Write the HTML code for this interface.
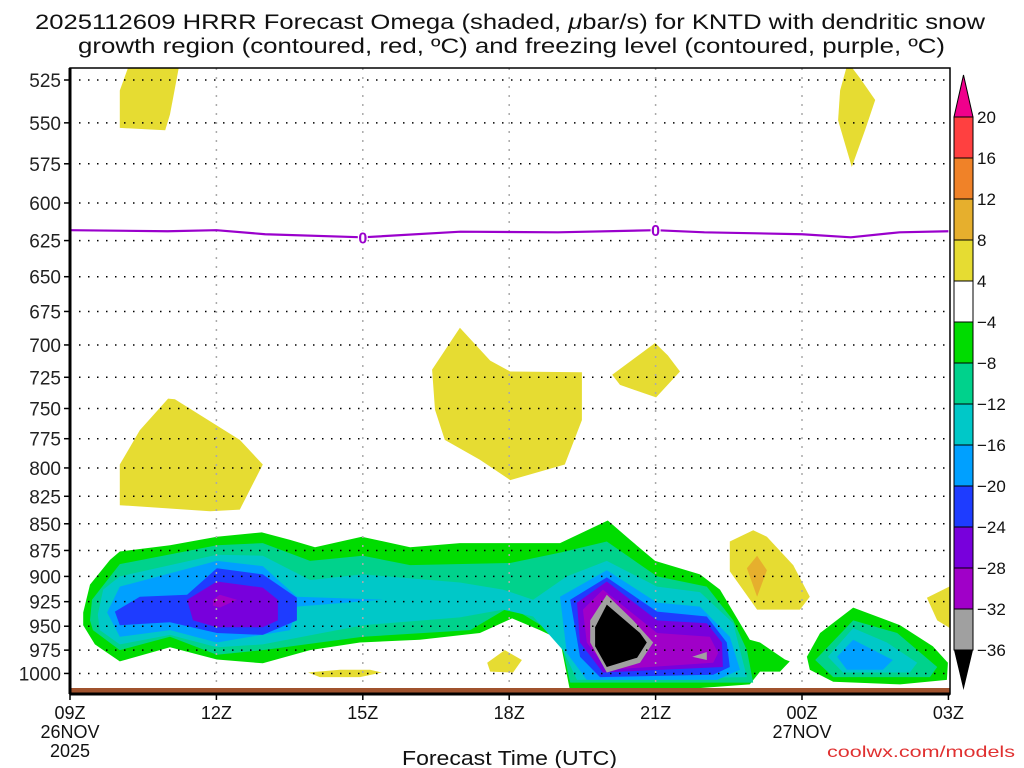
<!DOCTYPE html>
<html><head><meta charset="utf-8"><style>
body{margin:0;background:#fff;}
svg{display:block;font-family:"Liberation Sans",sans-serif;}
</style></head><body>
<svg id="chart" width="1024" height="768" viewBox="0 0 1024 768">
<text x="35" y="29" font-size="21" textLength="950" lengthAdjust="spacingAndGlyphs" fill="#111">2025112609 HRRR Forecast Omega (shaded, <tspan font-style="italic">μ</tspan>bar/s) for KNTD with dendritic snow</text>
<text x="78" y="53" font-size="21" textLength="867" lengthAdjust="spacingAndGlyphs" fill="#111">growth region (contoured, red, ºC) and freezing level (contoured, purple, ºC)</text>
<defs><clipPath id="pc"><rect x="70" y="68" width="880" height="620"/></clipPath></defs>
<g id="fills" clip-path="url(#pc)"></g>
<g id="grid"></g>
<g id="frz" clip-path="url(#pc)"></g>
<rect x="70" y="688" width="880" height="6" fill="#a0522d"/>
<g id="axes"></g>
<g id="cbar"></g>
<text x="402" y="765" font-size="20" textLength="215" lengthAdjust="spacingAndGlyphs" fill="#111">Forecast Time (UTC)</text>
<text x="827" y="757" font-size="16" fill="#e03030" textLength="188" lengthAdjust="spacingAndGlyphs">coolwx.com/models</text>
</svg>
<script>
const pressureTicks=[525,550,575,600,625,650,675,700,725,750,775,800,825,850,875,900,925,950,975,1000];
const hourTicks=[0,3,6,9,12,15,18];
const hourLabels=["09Z","12Z","15Z","18Z","21Z","00Z","03Z"];
const cbarLevels=["20","16","12","8","4","\u22124","\u22128","\u221212","\u221216","\u221220","\u221224","\u221228","\u221232","\u221236"];
const cbarColors=["#ff4040","#f08228","#e6af2d","#e6dc32","#ffffff","#00dc00","#00d28c","#00c8c8","#00a0ff","#1e3cff","#7800dc","#a000c8","#a0a0a0"];
const freezeHours=[0,2,3,4,6,8,10,12,13,15,16,17,18];
const freezeP=[618,618.7,618,620.7,622.8,619,619.4,618,619.4,620.7,622.8,619.4,618.7];
const regionLevels=["g","g","t","c","lb","lb","b","b","b","p","p","v","v","gr","gr","k","g","t","c","lb","y","y","y","y","y","y","o","y","y","y"];
const regions=[
[[0.27,936],[0.41,908],[0.82,884],[1.02,876],[2.05,870],[3.01,862],[3.93,858],[4.51,865],[5.02,872],[5.98,862],[6.97,872],[7.99,868],[9.02,868],[10.04,868],[11.02,847],[11.48,865],[11.99,885],[12.91,898],[13.32,913],[13.93,964],[14.14,967],[14.65,985],[14.75,987],[14.55,998],[14.14,998],[13.93,1012],[11.89,1020],[10.25,1020],[10.14,990],[10.04,964],[9.63,954],[9.06,942],[8.4,957],[7.17,964],[5.94,967],[4.92,975],[3.95,989],[3.01,985],[2.05,972],[1.02,987],[0.51,969],[0.27,949]],
[[4.88,999],[5.53,996],[6.15,996],[6.39,999],[5.94,1004],[5.12,1004]],
[[0.41,944],[0.45,923],[1.02,888],[3.01,870],[3.95,868],[4.92,885],[6.0,880],[6.97,889],[9.02,887],[10.04,877],[11.0,866.5],[12.03,900],[13.05,910],[13.59,944],[13.87,975],[14.0,1010],[10.25,1010],[10.04,961],[9.02,930],[8.2,954],[6.0,961],[3.95,975],[3.01,980],[2.05,961],[1.02,975],[0.47,954]],
[[0.57,938],[0.68,913],[1.02,900],[3.01,879],[3.95,880],[4.92,903.5],[6.0,898],[7.99,906],[8.87,913],[9.49,923],[10.18,900],[11.0,885],[12.03,910],[12.91,915.5],[13.59,947],[13.87,1004],[10.39,1007],[10.1,975],[9.49,940],[8.87,933],[7.99,941],[6.0,949],[3.95,969],[3.01,972],[2.05,959],[1.02,969],[0.61,954]],
[[0.76,936],[1.02,910],[3.01,885],[3.95,890],[4.65,920],[6.41,923],[4.65,930],[4.51,954],[3.01,967],[2.05,954],[1.02,961]],
[[10.04,920],[11.0,894],[12.03,926],[12.91,930],[13.52,961],[13.73,996],[13.26,1007],[10.59,1007],[10.18,978]],
[[0.92,935],[1.43,920],[2.4,918],[3.01,892],[3.95,898],[4.65,921],[4.65,944],[3.95,959],[3.01,957],[2.05,946],[1.02,949]],
[[10.25,923],[11.0,901],[12.03,935],[13.05,940],[13.46,967],[13.52,993],[13.18,1001.5],[10.86,1004],[10.45,982]],
[[15.84,985.5],[15.98,972],[16.43,987],[16.05,998]],
[[2.4,923],[3.01,905],[3.95,911],[4.26,923],[4.26,944],[3.95,951],[3.01,951],[2.52,944]],
[[10.39,926],[11.0,905],[12.03,944],[13.05,947],[13.36,967],[13.38,993],[10.92,999],[10.45,967]],
[[2.93,923],[3.07,918],[3.42,923],[3.07,931],[2.93,929]],
[[10.51,933],[10.92,913],[12.03,957],[13.11,961],[13.28,978],[13.18,988.5],[11.0,996],[10.59,967]],
[[10.66,944],[11.0,918],[11.54,944],[11.95,967],[11.68,988.5],[11.0,999],[10.66,967]],
[[12.75,982],[13.05,977],[13.05,985.5]],
[[10.76,951],[11.0,928],[11.68,957],[11.82,967],[11.62,983],[11.0,993],[10.76,971]],
[[15.1,982],[15.37,957],[16.05,931],[17.01,949],[17.68,971],[17.99,988.5],[17.97,1007],[17.01,1012],[15.64,1009],[15.16,996]],
[[15.27,985.5],[16.05,944],[16.95,957],[17.77,993],[17.62,1004],[15.64,1004]],
[[15.53,982],[16.05,952],[16.74,967],[17.36,988.5],[17.21,999],[15.84,999]],
[[15.72,982],[16.05,964],[16.86,985.5],[16.66,996],[15.92,996]],
[[1.02,531],[1.23,515],[2.25,515],[2.05,545],[1.95,554.5],[1.02,553]],
[[1.02,797],[1.43,768],[2.01,742],[2.15,742.5],[3.48,776],[3.95,797],[3.48,837],[2.87,838.5],[1.02,833]],
[[7.42,719],[7.99,687],[8.61,712],[9.02,720.5],[10.49,721],[10.49,759.5],[10.14,797],[9.02,810.6],[8.4,793],[7.68,776],[7.48,751]],
[[11.11,723],[11.99,698.5],[12.25,708],[12.5,720.5],[12.01,741],[11.27,731]],
[[15.78,531],[15.94,515],[16.19,524],[16.5,536.5],[16.29,554.5],[16.02,577],[15.74,548.5]],
[[13.52,866.5],[14.0,856],[14.28,862],[14.82,889],[15.16,920],[14.96,933],[14.08,933],[13.52,895]],
[[13.87,892],[14.08,880],[14.28,894],[14.08,920]],
[[17.56,921],[18.1,908],[18.1,954],[17.77,944]],
[[8.55,988.5],[8.91,975],[9.26,985.5],[9.08,999],[8.61,998]],
[[4.88,999],[5.53,996],[6.15,996],[6.39,999],[5.94,1004],[5.12,1004]]
];
const levelColor={g:"#00dc00",t:"#00d28c",c:"#00c8c8",lb:"#00a0ff",b:"#1e3cff",p:"#7800dc",v:"#a000c8",gr:"#a0a0a0",k:"#000000",y:"#e6dc32",o:"#e6af2d"};
const X0=70,PXH=48.8,Y0=80,PXL=921,P0=525;
function xs(h){return X0+h*PXH;}
function ys(p){return Y0+PXL*Math.log(p/P0);}
const NS="http://www.w3.org/2000/svg";
function mk(tag,attrs,parent){const e=document.createElementNS(NS,tag);for(const k in attrs)e.setAttribute(k,attrs[k]);parent.appendChild(e);return e;}
const fills=document.getElementById('fills');
regions.forEach((r,i)=>{
  const lv=regionLevels[i];
  if(i===1) return;
  const pts=r.map(v=>xs(v[0]).toFixed(1)+","+ys(v[1]).toFixed(1)).join(" ");
  const e=mk('polygon',{points:pts,fill:levelColor[lv]},fills);
  
  
});
const grid=document.getElementById('grid');
pressureTicks.forEach(p=>{
  const e=mk('line',{x1:70,x2:950,y1:ys(p),y2:ys(p),stroke:"#000","stroke-width":1.5,"stroke-dasharray":"1.5 7.5"},grid);
  
  
});
hourTicks.slice(1,6).forEach(h=>{
  const e=mk('line',{x1:xs(h),x2:xs(h),y1:68,y2:694,stroke:"#aaa","stroke-width":1.5,"stroke-dasharray":"2 7"},grid);
  
  
});
const frz=document.getElementById('frz');
const fl=mk('polyline',{points:freezeHours.map((h,i)=>xs(h)+","+ys(freezeP[i])).join(" "),fill:"none",stroke:"#9a00cc","stroke-width":2.2},frz);


[6,12].forEach(h=>{
  const i=freezeHours.indexOf(h);
  mk('rect',{x:xs(h)-5,y:ys(freezeP[i])-7,width:10,height:14,fill:"#fff"},frz);
  const t=mk('text',{x:xs(h),y:ys(freezeP[i])+6,"font-size":16,"font-weight":"bold",fill:"#9a00cc","text-anchor":"middle"},frz);
  t.textContent="0";
  
  
});
const ax=document.getElementById('axes');
mk('rect',{x:70,y:68,width:880,height:626,fill:"none",stroke:"#000","stroke-width":1.5},ax);
mk('line',{x1:70,x2:950,y1:694,y2:694,stroke:"#000","stroke-width":3},ax);
mk('line',{x1:70,x2:70,y1:68,y2:694,stroke:"#000","stroke-width":3},ax);
pressureTicks.forEach(p=>{
  mk('line',{x1:64,x2:70,y1:ys(p),y2:ys(p),stroke:"#000","stroke-width":1.5},ax);
  const t=mk('text',{x:61,y:ys(p)+7,"font-size":19,"text-anchor":"end",fill:"#222"},ax);
  t.textContent=p;
  
  
});
hourTicks.forEach((h,i)=>{
  mk('line',{x1:xs(h),x2:xs(h),y1:694,y2:700,stroke:"#000","stroke-width":1.5},ax);
  const t=mk('text',{x:xs(h),y:719,"font-size":18,"text-anchor":"middle",fill:"#111"},ax);
  t.textContent=hourLabels[i];
  
  
});
[["26NOV",xs(0),738],["2025",xs(0),757],["27NOV",xs(15),738]].forEach(d=>{
  const t=mk('text',{x:d[1],y:d[2],"font-size":18,"text-anchor":"middle",fill:"#111"},ax);
  t.textContent=d[0];
  
  
});
const cb=document.getElementById('cbar');
const CB0=117,CBH=41,CBX=954,CBW=19;
mk('polygon',{points:`${CBX},${CB0} ${CBX+CBW},${CB0} ${CBX+CBW/2},75`,fill:"#f0008c",stroke:"#000","stroke-width":1},cb);
cbarColors.forEach((c,i)=>{
  const e=mk('rect',{x:CBX,y:CB0+i*CBH,width:CBW,height:CBH,fill:c,stroke:"#000","stroke-width":1},cb);
  
  
});
const cbBot=CB0+cbarColors.length*CBH;
mk('polygon',{points:`${CBX},${cbBot} ${CBX+CBW},${cbBot} ${CBX+CBW/2},${cbBot+40}`,fill:"#000"},cb);
cbarLevels.forEach((l,i)=>{
  const t=mk('text',{x:977,y:CB0+i*CBH+6,"font-size":17,fill:"#111"},cb);
  t.textContent=l;
  
  
});
</script>
</body></html>
